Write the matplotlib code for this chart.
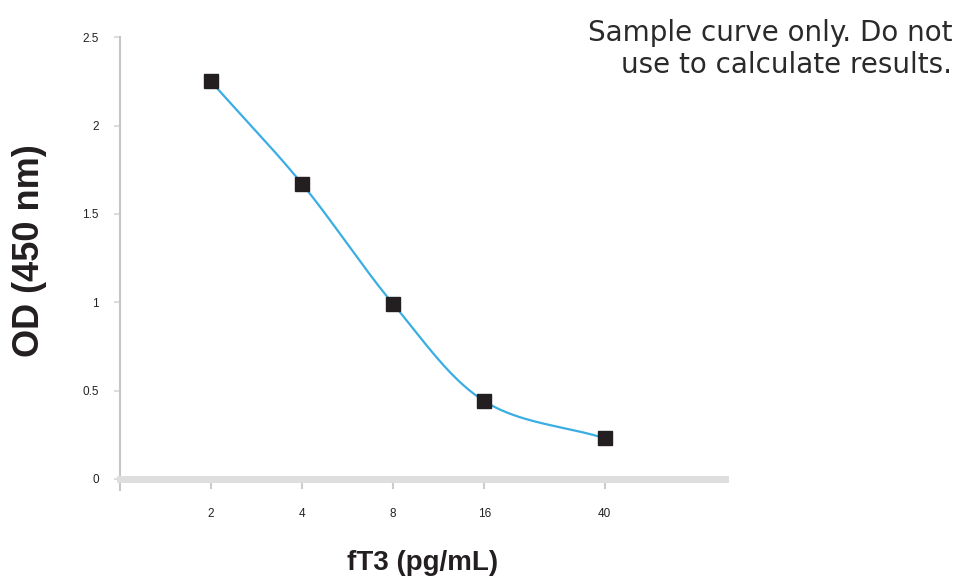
import numpy as np
import matplotlib.pyplot as plt

# standard curve values
conc = [2, 4, 8, 16, 40]
od = [2.25, 1.67, 0.99, 0.44, 0.23]
x_ticks = [2, 4, 8, 16, 40]
y_ticks = [0, 0.5, 1, 1.5, 2, 2.5]
y_tick_labels = ["0", "0.5", "1", "1.5", "2", "2.5"]

plt.rcParams['font.family'] = ['Liberation Sans', 'DejaVu Sans']

fig = plt.figure(figsize=(9.58, 5.81), dpi=100)
ax = fig.add_axes([0.125, 0.157, 0.632, 0.779])

# smooth line through the points (Catmull-Rom in log-x space)
lx = np.log10(conc)
ly = np.array(od)
px = np.concatenate([[2 * lx[0] - lx[1]], lx, [2 * lx[-1] - lx[-2]]])
py = np.concatenate([[2 * ly[0] - ly[1]], ly, [2 * ly[-1] - ly[-2]]])
cx, cy = [], []
t = np.linspace(0, 1, 40)
for i in range(1, len(px) - 2):
    for arr, out in ((px, cx), (py, cy)):
        p0, p1, p2, p3 = arr[i - 1], arr[i], arr[i + 1], arr[i + 2]
        out.extend(0.5 * (2 * p1 + (-p0 + p2) * t
                          + (2 * p0 - 5 * p1 + 4 * p2 - p3) * t ** 2
                          + (-p0 + 3 * p1 - 3 * p2 + p3) * t ** 3))
ax.plot(10 ** np.array(cx), cy, color='#3aaee2', lw=1.6, zorder=2)
ax.plot(conc, od, 's', color='#231f20', markersize=10, zorder=3)

ax.set_xscale('log')
ax.set_xlim(1, 100)
ax.set_ylim(-0.062, 2.5)
ax.set_xticks(x_ticks)
ax.set_xticklabels([str(v) for v in x_ticks])
ax.minorticks_off()
ax.set_yticks(y_ticks)
ax.set_yticklabels(y_tick_labels)

for s in ['top', 'right']:
    ax.spines[s].set_visible(False)
ax.spines['left'].set_color('#c6c6c6')
ax.spines['left'].set_linewidth(1.5)
ax.spines['bottom'].set_position(('data', 0))
ax.spines['bottom'].set_color('#dedede')
ax.spines['bottom'].set_linewidth(5)

ax.tick_params(axis='x', length=7, width=1.5, color='#cccccc', pad=14,
               labelsize=8.5, labelcolor='#222222')
ax.tick_params(axis='y', length=4, width=1.5, color='#dddddd', pad=11,
               labelsize=8.5, labelcolor='#222222')

ax.set_xlabel('fT3 (pg/mL)', fontsize=20, fontweight='bold', color='#231f20', va='center')
ax.xaxis.set_label_coords(0.5, -0.162)
ax.set_ylabel('OD (450 nm)', fontsize=26, fontweight='bold', color='#231f20', va='center')
ax.yaxis.set_label_coords(-0.149, 0.528)

fig.text(0.994, 0.968, 'Sample curve only. Do not\nuse to calculate results.',
         ha='right', va='top', fontsize=20, color='#2a2a2a', linespacing=1.2,
         family=['DejaVu Sans'])

fig.savefig('out.png', dpi=100)
